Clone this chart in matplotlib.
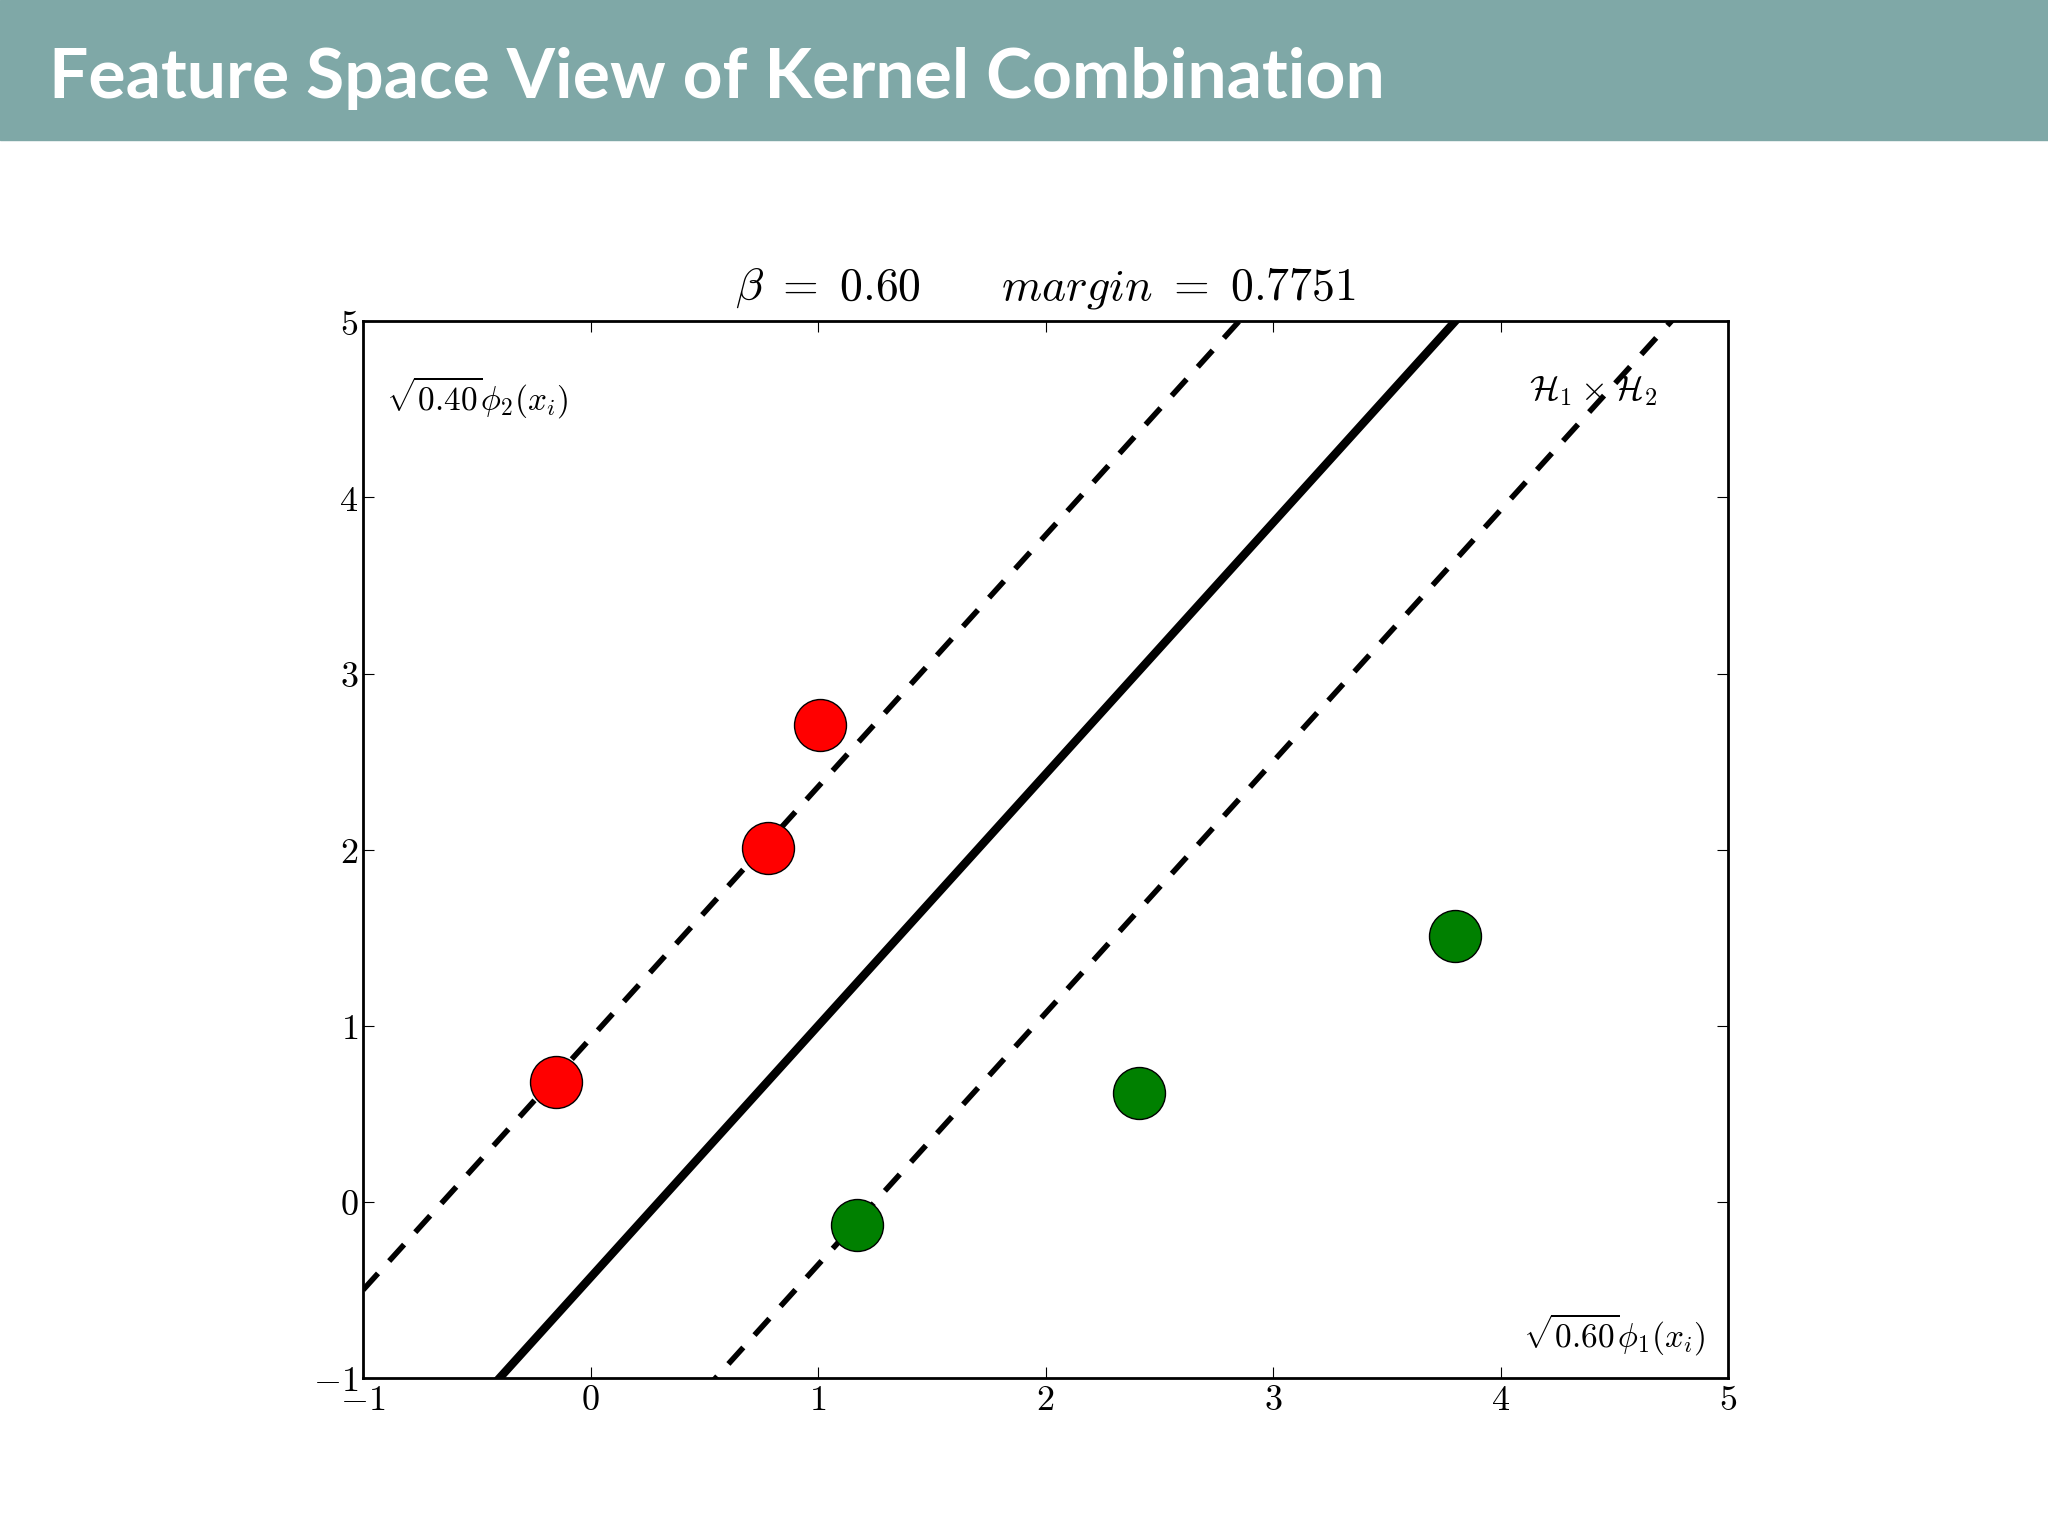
import matplotlib
matplotlib.use("Agg")
import matplotlib.pyplot as plt
import numpy as np
from matplotlib.ticker import FuncFormatter

plt.rcParams['mathtext.fontset'] = 'cm'

slope = 1.4286
intercepts = [0.9286, -0.4286, -1.7857]
styles = ['--', '-', '--']
red_x = [-0.15, 0.78, 1.01]
red_y = [0.68, 2.01, 2.71]
green_x = [1.17, 2.41, 3.80]
green_y = [-0.13, 0.62, 1.51]
ticks = [-1, 0, 1, 2, 3, 4, 5]

fig = plt.figure(figsize=(20.48, 15.36), dpi=100)
fig.patches.append(plt.Rectangle((0, 0.909), 1, 0.091, transform=fig.transFigure,
                                 color='#7fa8a7', zorder=0))
fig.text(0.024, 0.949, 'Feature Space View of Kernel Combination', color='white',
         fontsize=50, fontweight='bold', family='Lato', va='center')

ax = fig.add_axes([0.1773, 0.1029, 0.6665, 0.6879])
x = np.array([-1.0, 5.0])
for b, ls in zip(intercepts, styles):
    if ls == '--':
        ax.plot(x, slope * x + b, 'k', lw=4, dashes=(4, 3))
    else:
        ax.plot(x, slope * x + b, 'k', lw=6)
ax.scatter(red_x, red_y, s=1400, c='red', edgecolors='k', linewidths=1, zorder=3)
ax.scatter(green_x, green_y, s=1400, c='green', edgecolors='k', linewidths=1, zorder=3)
ax.set_xlim(-1, 5)
ax.set_ylim(-1, 5)
ax.set_xticks(ticks)
ax.set_yticks(ticks)
fmt = FuncFormatter(lambda v, p: f'${v:g}$')
ax.xaxis.set_major_formatter(fmt)
ax.yaxis.set_major_formatter(fmt)
ax.tick_params(labelsize=26, direction='in', length=8, top=True, right=True)
for s in ax.spines.values():
    s.set_linewidth(2)
ax.set_title(r'$\beta\ =\ 0.60\qquad margin\ =\ 0.7751$', fontsize=33, pad=16)
ax.text(0.017, 0.95, r'$\sqrt{0.40}\phi_2(x_i)$', transform=ax.transAxes, fontsize=24,
        va='top', ha='left')
ax.text(0.948, 0.95, r'$\mathcal{H}_1\times\mathcal{H}_2$', transform=ax.transAxes, fontsize=25,
        va='top', ha='right')
ax.text(0.983, 0.02, r'$\sqrt{0.60}\phi_1(x_i)$', transform=ax.transAxes, fontsize=24,
        va='bottom', ha='right')
fig.savefig('out.png', dpi=100)
